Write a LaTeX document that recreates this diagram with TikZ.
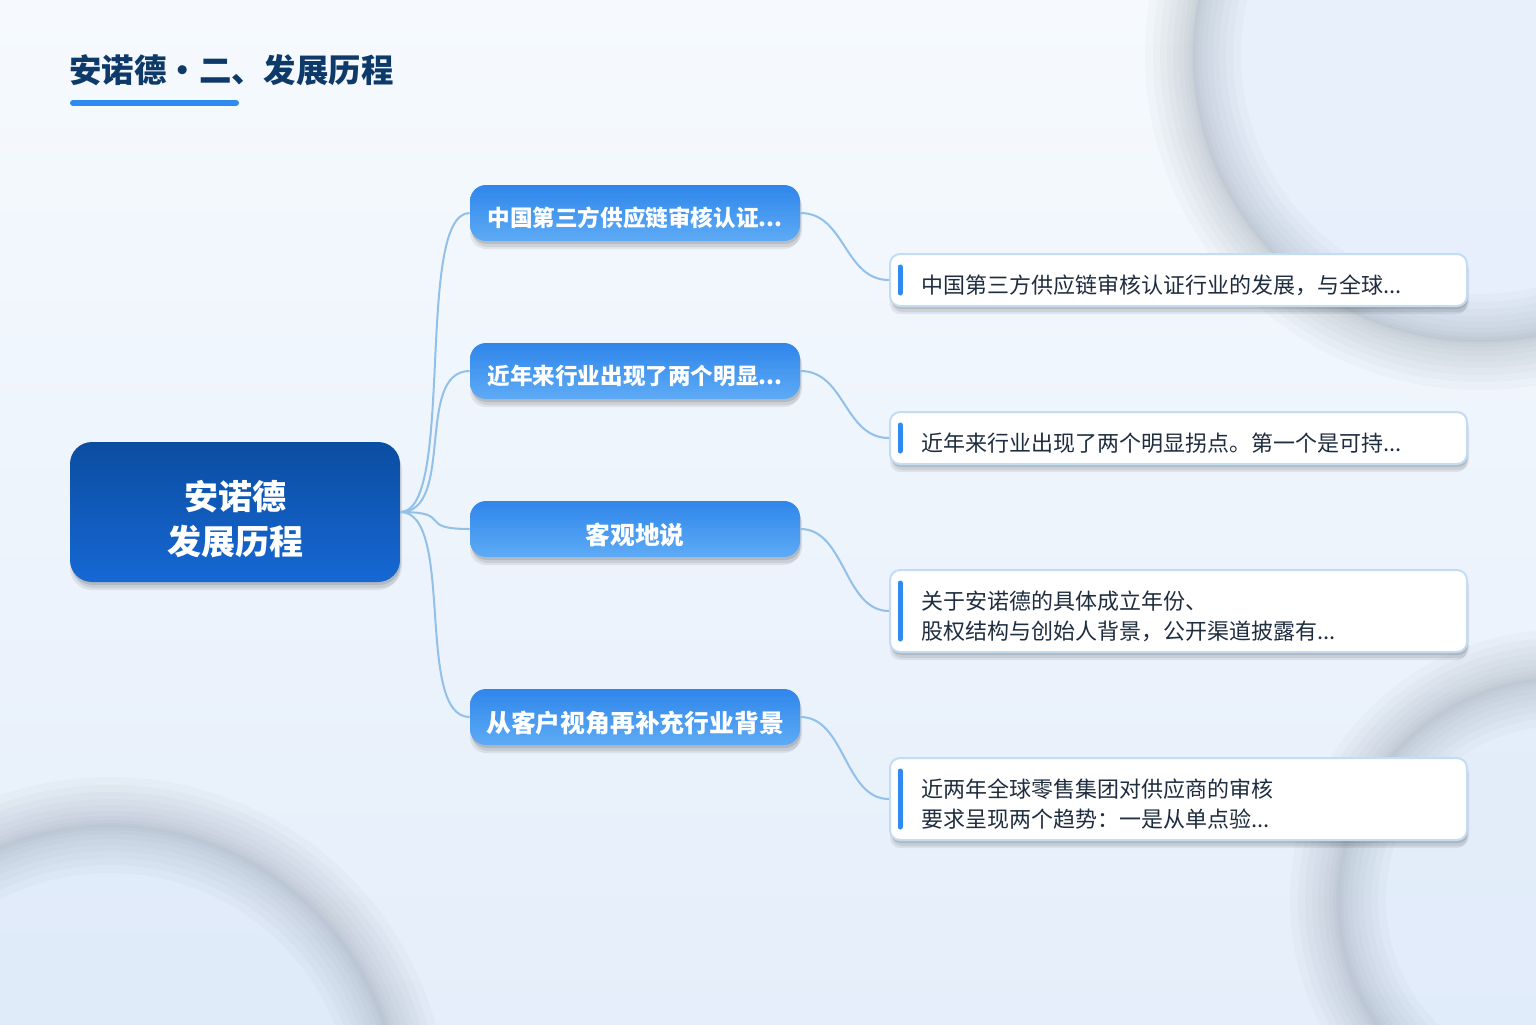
\documentclass[tikz,border=0pt]{standalone}
\usepackage{fontspec}
\setmainfont{Noto Sans CJK SC}
\usetikzlibrary{shadows}
\definecolor{bgtop}{HTML}{F6FAFE}
\definecolor{bgbot}{HTML}{E5EEFA}
\definecolor{disc}{HTML}{DCE9FA}
\definecolor{titlec}{HTML}{0E3A6A}
\definecolor{accent}{HTML}{2F8BF0}
\definecolor{roottop}{HTML}{0B4DA1}
\definecolor{rootbot}{HTML}{1668D4}
\definecolor{brtop}{HTML}{2F86EA}
\definecolor{brbot}{HTML}{5EABF6}
\definecolor{linec}{HTML}{92C0E9}
\definecolor{detborder}{HTML}{C2DCF4}
\definecolor{dettext}{HTML}{1F2D40}
\definecolor{ringc}{HTML}{7C8796}
\tikzset{
  softshadow/.style={
    drop shadow={shadow xshift=0pt, shadow yshift=-4pt, opacity=.07, fill=black},
    drop shadow={shadow xshift=1pt, shadow yshift=-3pt, opacity=.08, fill=black},
    drop shadow={shadow xshift=0.5pt, shadow yshift=-1.5pt, opacity=.10, fill=black}},
  rootbox/.style={softshadow, rounded corners=11pt, top color=roottop, bottom color=rootbot,
    minimum width=165pt, minimum height=70pt, inner sep=0pt},
  roottext/.style={text=white, font=\fontsize{17}{22.5}\selectfont\bfseries, align=center, inner sep=0pt},
  branchbox/.style={softshadow, rounded corners=8pt, top color=brtop, bottom color=brbot,
    minimum width=165pt, minimum height=28pt, inner sep=0pt},
  branchtext/.style={text=white, font=\fontsize{11.3}{14}\selectfont\bfseries, inner sep=0pt},
  branchtextL/.style={text=white, font=\fontsize{12.4}{15}\selectfont\bfseries, inner sep=0pt},
  detbox/.style={softshadow, rounded corners=5pt, fill=white, draw=detborder, line width=1pt,
    minimum width=288.5pt, inner sep=0pt},
  dettext/.style={anchor=west, align=left, inner sep=0pt, text=dettext, font=\fontsize{11}{15}\selectfont},
  link/.style={draw=linec, line width=1pt},
  bar/.style={draw=accent, line width=2.5pt, line cap=round},
  ring/.style={draw=ringc, opacity=.042}
}
\begin{document}
\begin{tikzpicture}[x=0.5pt,y=-0.5pt]
\useasboundingbox (0,0) rectangle (1536,1024);
\shade[top color=bgtop, bottom color=bgbot] (0,0) rectangle (1536,1024);
% soft rings
\begin{scope}
\clip (0,0) rectangle (1536,1024);
\fill[disc, opacity=.5] (1480,55) circle [radius=287];
\fill[disc, opacity=.5] (110,1115) circle [radius=290];
\fill[disc, opacity=.4] (1560,900) circle [radius=222];
\foreach \w in {48,40,33,26,20,14,9,5,2}{
  \draw[ring, line width=\w pt] (1480,55) circle [radius=287];
  \draw[ring, line width=\w pt] (110,1115) circle [radius=290];
  \draw[ring, line width=\w pt] (1560,900) circle [radius=222];
}
\end{scope}
% title
\node[anchor=west, inner sep=0pt, text=titlec, font=\fontsize{16.2}{18}\selectfont\bfseries] (title) at (69,70) {安诺德・二、发展历程};
\coordinate (ulA) at (73,103);
\coordinate (ulB) at (236,103);
\draw[draw=accent, line width=3pt, line cap=round] (ulA) -- (ulB);
% boxes
\node[rootbox] (root) at (235,512) {};
\node[branchbox] (b1) at (635,213) {};
\node[branchbox] (b2) at (635,371) {};
\node[branchbox] (b3) at (635,529) {};
\node[branchbox] (b4) at (635,717) {};
\node[detbox, minimum height=26pt] (d1) at (1178.5,280) {};
\node[detbox, minimum height=26pt] (d2) at (1178.5,438) {};
\node[detbox, minimum height=41pt] (d3) at (1178.5,611) {};
\node[detbox, minimum height=41pt] (d4) at (1178.5,799) {};
% texts
\node[roottext] (rt) at ([yshift=-3.5pt]root.center) {安诺德\\发展历程};
\node[branchtext] (bt1) at ([yshift=-2.5pt]b1.center) {中国第三方供应链审核认证...};
\node[branchtext] (bt2) at ([yshift=-2.5pt]b2.center) {近年来行业出现了两个明显...};
\node[branchtextL] (bt3) at ([yshift=-3pt]b3.center) {客观地说};
\node[branchtextL] (bt4) at ([yshift=-3pt]b4.center) {从客户视角再补充行业背景};
\node[dettext] (dt1) at ([xshift=16pt,yshift=-2.5pt]d1.west) {中国第三方供应链审核认证行业的发展，与全球...};
\node[dettext] (dt2) at ([xshift=16pt,yshift=-2.5pt]d2.west) {近年来行业出现了两个明显拐点。第一个是可持...};
\node[dettext] (dt3) at ([xshift=16pt,yshift=-2.5pt]d3.west) {关于安诺德的具体成立年份、\\股权结构与创始人背景，公开渠道披露有...};
\node[dettext] (dt4) at ([xshift=16pt,yshift=-2.5pt]d4.west) {近两年全球零售集团对供应商的审核\\要求呈现两个趋势：一是从单点验...};
% accent bars
\foreach \d in {d1,d2,d3,d4}{
  \draw[bar] ([xshift=5.5pt,yshift=-7pt]\d.north west) -- ([xshift=5.5pt,yshift=7pt]\d.south west);
}
% connectors
\foreach \b in {b1,b2,b3,b4}{
  \draw[link] (root.east) .. controls +(55,0) and +(-55,0) .. (\b.west);
}
\draw[link] (b1.east) .. controls +(45,0) and +(-45,0) .. (d1.west);
\draw[link] (b2.east) .. controls +(45,0) and +(-45,0) .. (d2.west);
\draw[link] (b3.east) .. controls +(45,0) and +(-45,0) .. (d3.west);
\draw[link] (b4.east) .. controls +(45,0) and +(-45,0) .. (d4.west);
\end{tikzpicture}
\end{document}
